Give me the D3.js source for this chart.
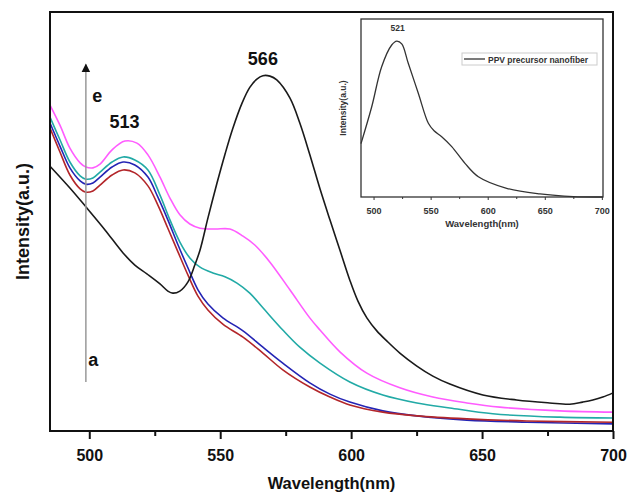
<!DOCTYPE html>
<html>
<head>
<meta charset="utf-8">
<script src="https://cdn.jsdelivr.net/npm/d3@7"></script>
<style>
  body { margin: 0; background: #fff; }
  svg text { font-family: "Liberation Sans", Arial, sans-serif; font-weight: bold; }
</style>
</head>
<body>
<div id="graph"></div>
<script>
// main spectra, a..e (arbitrary units 0..1)
var wlA = [485, 492.6, 498.7, 506.0, 512.9, 517.4, 522.0, 527.0, 530.0, 531.9, 534.6, 537.7, 540.3, 542.3, 545.3, 548.7, 551.8, 554.8, 558.3, 561.3, 564.0, 566.3, 569.0, 571.6, 576.6, 580.4, 584.2, 588.1, 591.9, 595.7, 599.5, 602.6, 606.0, 609.8, 613.6, 618.6, 625.1, 631.2, 637.7, 650.3, 663.2, 675.8, 683.5, 688.4, 692.3, 696.1, 700];
var valA = [0.632, 0.580, 0.535, 0.480, 0.425, 0.396, 0.375, 0.351, 0.334, 0.329, 0.334, 0.356, 0.396, 0.432, 0.508, 0.590, 0.660, 0.722, 0.782, 0.820, 0.840, 0.848, 0.847, 0.838, 0.795, 0.735, 0.660, 0.578, 0.504, 0.432, 0.360, 0.310, 0.270, 0.239, 0.215, 0.186, 0.155, 0.131, 0.112, 0.086, 0.074, 0.067, 0.064, 0.069, 0.074, 0.081, 0.091];

var wlB = [485, 488.8, 492.6, 496.5, 498.7, 501.4, 504.1, 508.7, 512.9, 517.4, 522.4, 526.2, 530.0, 533.9, 537.7, 541.5, 545.3, 551.0, 558.7, 566.3, 573.9, 584.2, 591.9, 599.5, 612.1, 625.1, 644.2, 667.1, 700];
var valB = [0.723, 0.666, 0.611, 0.578, 0.570, 0.573, 0.587, 0.611, 0.623, 0.616, 0.585, 0.539, 0.484, 0.427, 0.372, 0.322, 0.289, 0.255, 0.224, 0.186, 0.146, 0.105, 0.081, 0.062, 0.045, 0.036, 0.029, 0.024, 0.021];

var wlC = [485, 488.8, 492.6, 496.5, 498.7, 501.4, 504.1, 508.7, 512.9, 517.4, 522.4, 526.2, 530.0, 533.9, 537.7, 541.5, 545.3, 551.0, 558.7, 566.3, 573.9, 584.2, 591.9, 599.5, 612.1, 625.1, 644.2, 667.1, 700];
var valC = [0.735, 0.680, 0.628, 0.597, 0.589, 0.592, 0.606, 0.630, 0.642, 0.635, 0.606, 0.558, 0.504, 0.444, 0.389, 0.337, 0.303, 0.270, 0.239, 0.200, 0.162, 0.115, 0.088, 0.069, 0.048, 0.036, 0.026, 0.021, 0.017];

var wlD = [485, 488.8, 492.6, 496.5, 498.7, 501.4, 504.1, 508.7, 512.9, 517.4, 522.4, 527.0, 530.8, 534.6, 538.4, 542.3, 547.2, 551.8, 556.4, 561.3, 566.3, 573.9, 580.4, 588.1, 599.5, 612.1, 625.1, 637.7, 654.1, 679.7, 700];
var valD = [0.749, 0.695, 0.642, 0.609, 0.601, 0.604, 0.618, 0.642, 0.654, 0.647, 0.623, 0.563, 0.504, 0.451, 0.413, 0.391, 0.377, 0.368, 0.353, 0.329, 0.294, 0.241, 0.200, 0.162, 0.117, 0.086, 0.067, 0.055, 0.041, 0.033, 0.031];

var wlE = [485, 488.8, 492.6, 496.5, 498.7, 501.4, 504.1, 508.7, 513.6, 518.2, 522.4, 527.0, 530.8, 534.6, 538.4, 542.3, 548.0, 553.7, 558.7, 563.2, 569.0, 576.6, 584.2, 588.1, 595.7, 606.0, 618.6, 631.2, 644.2, 656.8, 679.7, 700];
var valE = [0.778, 0.730, 0.675, 0.640, 0.630, 0.628, 0.637, 0.671, 0.692, 0.687, 0.659, 0.606, 0.556, 0.516, 0.494, 0.484, 0.482, 0.482, 0.465, 0.444, 0.403, 0.337, 0.270, 0.241, 0.189, 0.138, 0.103, 0.081, 0.067, 0.057, 0.048, 0.045];

var seriesColors = ["#1a1a1a", "#b3262a", "#2424b4", "#22aaa6", "#ff5cff"];

// inset: PPV precursor nanofiber
var wlInset = [489, 498.4, 507.1, 515.9, 520.3, 524.7, 530.4, 539.2, 548, 553, 559.7, 568.5, 580.1, 591.8, 616.6, 645.8, 675, 701];
var valInset = [0.30, 0.507, 0.732, 0.854, 0.876, 0.860, 0.751, 0.583, 0.414, 0.372, 0.339, 0.283, 0.189, 0.114, 0.049, 0.017, 0.002, 0];

var xTicks = [500, 550, 600, 650, 700];
var xMinorTicks = [525, 575, 625, 675];

var svg = d3.select('#graph').append('svg').attr('width', 628).attr('height', 494);

// ---- main chart ----
var x = d3.scaleLinear().domain([485, 700]).range([50, 613]);
var y = d3.scaleLinear().domain([0, 1]).range([431, 12]);

var line = d3.line()
  .x(function(d){ return x(d[0]); })
  .y(function(d){ return y(d[1]); })
  .curve(d3.curveCatmullRom.alpha(0.5));

var series = [[wlA, valA], [wlB, valB], [wlC, valC], [wlD, valD], [wlE, valE]];
// draw e..a so the black curve ends on top
for(var i = series.length - 1; i >= 0; i--){
  var pts = d3.zip(series[i][0], series[i][1]);
  svg.append('path').attr('d', line(pts))
    .attr('fill', 'none').attr('stroke', seriesColors[i]).attr('stroke-width', 1.6);
}

svg.append('rect').attr('x', x(485)).attr('y', y(1))
  .attr('width', x(700) - x(485)).attr('height', y(0) - y(1))
  .attr('fill', 'none').attr('stroke', '#111').attr('stroke-width', 2);

var xAxis = svg.append('g').attr('transform', 'translate(0,' + y(0) + ')')
  .call(d3.axisBottom(x).tickValues(xTicks).tickSize(8).tickFormat(d3.format('d')));
xAxis.select('.domain').remove();
xAxis.selectAll('line').attr('stroke', '#111').attr('stroke-width', 2);
xAxis.selectAll('text').attr('font-size', 16).attr('fill', '#111').attr('dy', '1.2em');
var xMinor = svg.append('g').attr('transform', 'translate(0,' + y(0) + ')')
  .call(d3.axisBottom(x).tickValues(xMinorTicks).tickSize(5).tickFormat(''));
xMinor.select('.domain').remove();
xMinor.selectAll('line').attr('stroke', '#111').attr('stroke-width', 2);

svg.append('text').attr('x', x(592.5)).attr('y', 489).attr('text-anchor', 'middle')
  .attr('font-size', 16.5).attr('fill', '#111').text('Wavelength(nm)');
svg.append('text').attr('transform', 'translate(29,' + y(0.5) + ') rotate(-90)')
  .attr('text-anchor', 'middle').attr('font-size', 18).attr('fill', '#111').text('Intensity(a.u.)');

// arrow a -> e
svg.append('defs').append('marker').attr('id', 'head')
  .attr('viewBox', '0 0 10 10').attr('refX', 9).attr('refY', 5)
  .attr('markerWidth', 6).attr('markerHeight', 7).attr('orient', 'auto')
  .append('path').attr('d', 'M0,0 L10,5 L0,10 z').attr('fill', '#111');
svg.append('line').attr('x1', x(498.7)).attr('x2', x(498.7))
  .attr('y1', y(0.117)).attr('y2', y(0.875))
  .attr('stroke', '#999').attr('stroke-width', 1.5).attr('marker-end', 'url(#head)');

svg.append('text').attr('x', x(503)).attr('y', y(0.785)).attr('text-anchor', 'middle')
  .attr('font-size', 18).attr('fill', '#111').text('e');
svg.append('text').attr('x', x(501.5)).attr('y', y(0.155)).attr('text-anchor', 'middle')
  .attr('font-size', 18).attr('fill', '#111').text('a');
svg.append('text').attr('x', x(513.5)).attr('y', y(0.723)).attr('text-anchor', 'middle')
  .attr('font-size', 18).attr('fill', '#111').text('513');
svg.append('text').attr('x', x(566.3)).attr('y', y(0.874)).attr('text-anchor', 'middle')
  .attr('font-size', 18).attr('fill', '#111').text('566');

// ---- inset ----
var xi = d3.scaleLinear().domain([489, 701]).range([361, 603]);
var yi = d3.scaleLinear().domain([0, 1]).range([197, 19]);
var lineInset = d3.line()
  .x(function(d){ return xi(d[0]); })
  .y(function(d){ return yi(d[1]); })
  .curve(d3.curveCatmullRom.alpha(0.5));

svg.append('path').attr('d', lineInset(d3.zip(wlInset, valInset)))
  .attr('fill', 'none').attr('stroke', '#333').attr('stroke-width', 1.3);
svg.append('rect').attr('x', xi(489)).attr('y', yi(1))
  .attr('width', xi(701) - xi(489)).attr('height', yi(0) - yi(1))
  .attr('fill', 'none').attr('stroke', '#333').attr('stroke-width', 1.3);

var xiAxis = svg.append('g').attr('transform', 'translate(0,' + yi(0) + ')')
  .call(d3.axisBottom(xi).tickValues(xTicks).tickSize(3).tickFormat(d3.format('d')));
xiAxis.select('.domain').remove();
xiAxis.selectAll('line').attr('stroke', '#333');
xiAxis.selectAll('text').attr('font-size', 9).attr('fill', '#333').attr('dy', '1.2em');
var xiMinor = svg.append('g').attr('transform', 'translate(0,' + yi(0) + ')')
  .call(d3.axisBottom(xi).tickValues(xMinorTicks).tickSize(2).tickFormat(''));
xiMinor.select('.domain').remove();
xiMinor.selectAll('line').attr('stroke', '#333');

svg.append('text').attr('x', xi(595)).attr('y', 227).attr('text-anchor', 'middle')
  .attr('font-size', 9.5).attr('fill', '#333').text('Wavelength(nm)');
svg.append('text').attr('transform', 'translate(346,' + yi(0.5) + ') rotate(-90)')
  .attr('text-anchor', 'middle').attr('font-size', 8.5).attr('fill', '#333').text('Intensity(a.u.)');
svg.append('text').attr('x', xi(521)).attr('y', yi(0.935)).attr('text-anchor', 'middle')
  .attr('font-size', 8.5).attr('fill', '#333').text('521');

// legend
svg.append('rect').attr('x', 462).attr('y', 53).attr('width', 135).attr('height', 12)
  .attr('fill', 'none').attr('stroke', '#ccc').attr('stroke-width', 1);
svg.append('line').attr('x1', 464).attr('x2', 485).attr('y1', 59).attr('y2', 59)
  .attr('stroke', '#333').attr('stroke-width', 1.3);
svg.append('text').attr('x', 488).attr('y', 62.5)
  .attr('font-size', 8.5).attr('fill', '#333').text('PPV precursor nanofiber');
</script>
</body>
</html>
